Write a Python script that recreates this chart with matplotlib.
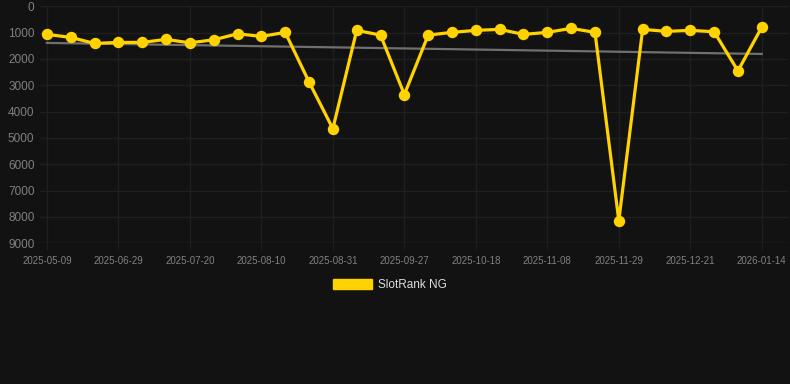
import matplotlib
matplotlib.use("Agg")
import matplotlib.pyplot as plt
import numpy as np

# Data
ranks = [1067, 1181, 1410, 1371, 1371, 1257, 1387, 1272, 1044, 1143, 990,
         2872, 4648, 914, 1093, 3352, 1093, 990, 914, 876, 1067, 990, 838,
         990, 8141, 876, 952, 914, 967, 2453, 789]
tick_idx = [0, 3, 6, 9, 12, 15, 18, 21, 24, 27, 30]
tick_labels = ["2025-05-09", "2025-06-29", "2025-07-20", "2025-08-10",
               "2025-08-31", "2025-09-27", "2025-10-18", "2025-11-08",
               "2025-11-29", "2025-12-21", "2026-01-14"]
trend_values = [1390, 1810]
y_ticks = [0, 1000, 2000, 3000, 4000, 5000, 6000, 7000, 8000, 9000]
series_name = "SlotRank NG"

bg = "#121212"
grid_c = "#1f1f1f"
gold = "#ffd200"
txt = "#808080"

W, H = 790, 384
fig = plt.figure(figsize=(W / 100, H / 100), dpi=100, facecolor=bg)
plt.rcParams['font.family'] = ['Liberation Sans', 'DejaVu Sans']

left, right, top, bottom = 40, 788, 6.3, 243.3
ax = fig.add_axes([left / W, 1 - bottom / H, (right - left) / W, (bottom - top) / H])
ax.set_facecolor(bg)

x = np.arange(len(ranks))
ax.set_xlim(-0.29, 31.1)
ax.set_ylim(9000, 0)

ax.plot([x[0], x[-1]], trend_values, color="#707070", lw=1.6, zorder=2)
ax.plot(x, ranks, color=gold, lw=2.3, marker="o", ms=7.2, mec=gold, mfc=gold,
        zorder=3, clip_on=False, label=series_name)

ax.set_yticks(y_ticks)
ax.set_yticklabels([str(v) for v in y_ticks])
ax.set_xticks(tick_idx)
ax.set_xticklabels(tick_labels)
ax.grid(True, color=grid_c, lw=1.0)
ax.set_axisbelow(True)
for s in ax.spines.values():
    s.set_visible(False)
ax.tick_params(axis="y", length=0, colors=txt, labelsize=8.5, pad=4)
ax.tick_params(axis="x", length=5, color=grid_c, colors=txt, labelsize=7.0, pad=4)
ax.axhline(9000, color="#2c2c2c", lw=1.0, zorder=1)

# Legend
handle = plt.Rectangle((0, 0), 1, 1, color=gold)
leg = fig.legend([handle], [series_name], loc="center", bbox_to_anchor=(390 / W, 1 - 285 / H),
                 frameon=False, fontsize=8.5, handlelength=3.3, handleheight=0.9,
                 handletextpad=0.5, labelcolor="#dddddd")

fig.savefig("out.png", dpi=100, facecolor=bg)
